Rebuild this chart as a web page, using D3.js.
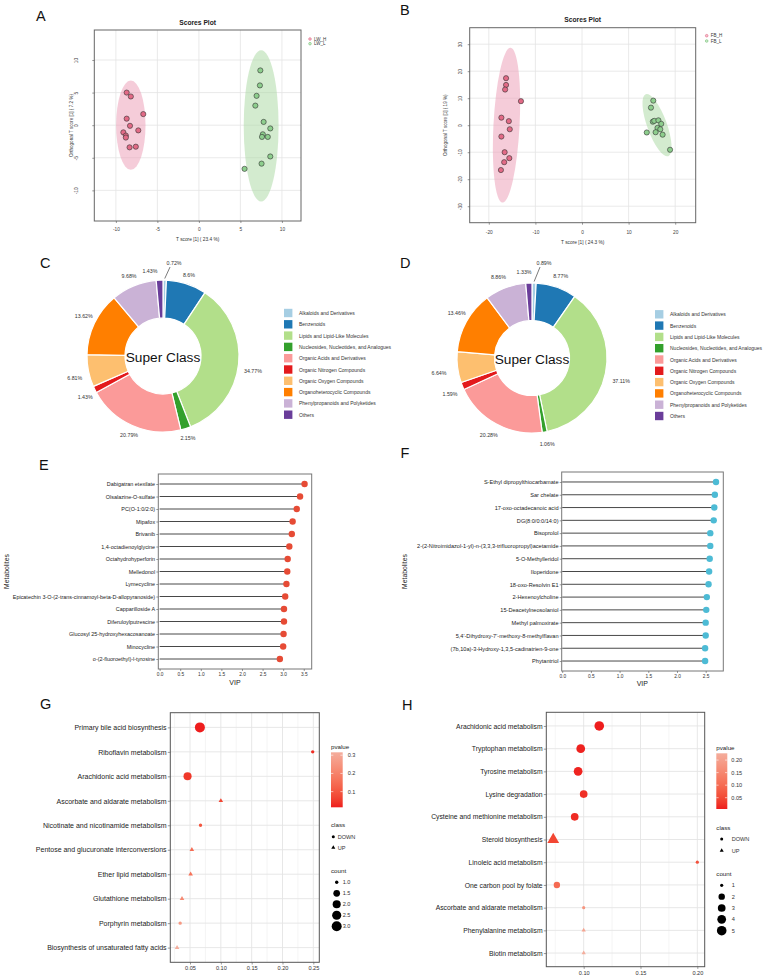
<!DOCTYPE html>
<html>
<head>
<meta charset="utf-8">
<script src="https://cdn.jsdelivr.net/npm/d3@7"></script>
<style>
  body { margin: 0; background: #fff; }
  #container svg { display: block; color: #222; }
</style>
</head>
<body>
<div id="container"></div>
<script>
//---------------- Data ----------------
// A: LW scores plot (T score, orthogonal T score)
const lwHigh = [[-8.7,5.0],[-8.2,4.4],[-6.7,1.7],[-8.7,1.0],[-8.3,-0.1],[-7.3,-0.8],[-9.1,-1.1],[-8.8,-1.6],[-8.8,-1.9],[-8.35,-3.4],[-7.6,-3.3]];
const lwLow = [[7.4,8.4],[7.35,6.1],[6.95,4.5],[6.8,3.0],[7.8,0.5],[8.6,-0.5],[7.7,-1.4],[7.6,-1.8],[8.3,-1.8],[8.6,-4.8],[7.55,-5.9],[5.5,-6.7]];
const lwEllipses = [{cx:-8.2, cy:0, rx:1.77, ry:6.85, angle:0}, {cx:7.5, cy:-0.1, rx:2.1, ry:11.6, angle:0}];
const lwGroups = ["LW_H", "LW_L"];
const lwTicksX = [-10,-5,0,5,10];
const lwTicksY = [-10,-5,0,5,10];

// B: FB scores plot
const fbHigh = [[-16.3,17.4],[-16.3,14.9],[-16.5,13.2],[-13.1,8.9],[-17.3,2.8],[-15.7,1.5],[-15.5,-1.5],[-17.3,-4.2],[-16.6,-10.0],[-15.6,-12.2],[-16.7,-13.7],[-17.4,-16.6]];
const fbLow = [[15.3,9.1],[14.8,6.5],[15.2,1.3],[15.5,1.6],[16.4,1.8],[17.0,0.5],[16.2,-1.0],[16.8,-1.5],[13.9,-2.7],[15.8,-2.6],[17.3,-3.5],[18.9,-9.1]];
const fbEllipses = [{cx:-16.2, cy:0, rx:2.8, ry:28.7, angle:3}, {cx:16.1, cy:0, rx:2.1, ry:12.2, angle:-20}];
const fbGroups = ["FB_H", "FB_L"];
const fbTicksX = [-20,-10,0,10,20];
const fbTicksY = [-30,-20,-10,0,10,20,30];

// C / D: super class shares (%)
const superClasses = ["Alkaloids and Derivatives", "Benzenoids", "Lipids and Lipid-Like Molecules",
  "Nucleosides, Nucleotides, and Analogues", "Organic Acids and Derivatives", "Organic Nitrogen Compounds",
  "Organic Oxygen Compounds", "Organoheterocyclic Compounds", "Phenylpropanoids and Polyketides", "Others"];
const shareC = [0.72, 8.6, 34.77, 2.15, 20.79, 1.43, 6.81, 13.62, 9.68, 1.43];
const shareD = [0.89, 8.77, 37.11, 1.06, 20.28, 1.59, 6.64, 13.46, 8.86, 1.33];

// E / F: VIP lollipops
const metabE = ["Dabigatran etexilate", "Olsalazine-O-sulfate", "PC(O-1:0/2:0)", "Mipafox", "Brivanib",
  "1,4-octadienoylglycine", "Octahydrohyperforin", "Melledonol", "Lymecycline",
  "Epicatechin 3-O-(2-trans-cinnamoyl-beta-D-allopyranoside)", "Capparilloside A", "Diferuloylputrescine",
  "Glucosyl 25-hydroxyhexacosanoate", "Minocycline", "o-(2-fluoroethyl)-l-tyrosine"];
const vipE = [3.52, 3.41, 3.33, 3.23, 3.21, 3.15, 3.11, 3.10, 3.08, 3.05, 3.02, 3.02, 3.01, 3.00, 2.92];
const vipTicksE = [0, 0.5, 1, 1.5, 2, 2.5, 3, 3.5];

const metabF = ["S-Ethyl dipropylthiocarbamate", "Sar chelate", "17-oxo-octadecanoic acid", "DG(8:0/0:0/14:0)",
  "Bisoprolol", "2-(2-Nitroimidazol-1-yl)-n-(3,3,3-trifluoropropyl)acetamide", "5-O-Methylleridol",
  "Iloperidone", "18-oxo-Resolvin E1", "2-Hexenoylcholine", "15-Deacetylneosolaniol", "Methyl palmoxirate",
  "5,4'-Dihydroxy-7'-methoxy-8-methylflavan", "(7b,10a)-3-Hydroxy-1,3,5-cadinatrien-9-one", "Phytantriol"];
const vipF = [2.68, 2.66, 2.65, 2.64, 2.58, 2.58, 2.57, 2.56, 2.55, 2.52, 2.51, 2.50, 2.50, 2.49, 2.49];
const vipTicksF = [0, 0.5, 1, 1.5, 2, 2.5];

// G / H: pathway enrichment
const pathG = ["Primary bile acid biosynthesis", "Riboflavin metabolism", "Arachidonic acid metabolism",
  "Ascorbate and aldarate metabolism", "Nicotinate and nicotinamide metabolism",
  "Pentose and glucuronate interconversions", "Ether lipid metabolism", "Glutathione metabolism",
  "Porphyrin metabolism", "Biosynthesis of unsaturated fatty acids"];
const ratioG = [0.066, 0.249, 0.046, 0.100, 0.067, 0.053, 0.051, 0.037, 0.034, 0.029];
const pvalG = [0.014, 0.030, 0.045, 0.070, 0.100, 0.150, 0.160, 0.220, 0.260, 0.316];
const classG = ["DOWN", "DOWN", "DOWN", "UP", "DOWN", "UP", "UP", "UP", "DOWN", "UP"];
const countG = [3, 1, 2, 1, 1, 1, 1, 1, 1, 1];
const ratioTicksG = [0.05, 0.10, 0.15, 0.20, 0.25];
const ratioMinorG = [0.025, 0.075, 0.125, 0.175, 0.225];
const pTicksG = [0.1, 0.2, 0.3];
const countTicksG = [1.0, 1.5, 2.0, 2.5, 3.0];

const pathH = ["Arachidonic acid metabolism", "Tryptophan metabolism", "Tyrosine metabolism", "Lysine degradation",
  "Cysteine and methionine metabolism", "Steroid biosynthesis", "Linoleic acid metabolism",
  "One carbon pool by folate", "Ascorbate and aldarate metabolism", "Phenylalanine metabolism", "Biotin metabolism"];
const ratioH = [0.1137, 0.0974, 0.0951, 0.100, 0.0921, 0.0732, 0.200, 0.0764, 0.100, 0.100, 0.100];
const pvalH = [0.005, 0.008, 0.010, 0.020, 0.015, 0.045, 0.060, 0.100, 0.180, 0.210, 0.227];
const classH = ["DOWN", "DOWN", "DOWN", "DOWN", "DOWN", "UP", "DOWN", "DOWN", "DOWN", "UP", "UP"];
const countH = [5, 4, 4, 3, 3, 4, 1, 2, 1, 1, 1];
const ratioTicksH = [0.10, 0.15, 0.20];
const ratioMinorH = [0.075, 0.125, 0.175];
const pTicksH = [0.05, 0.10, 0.15, 0.20];
const countTicksH = [1, 2, 3, 4, 5];

//---------------- Setup ----------------
const FONT = "'Liberation Sans', Arial, Helvetica, sans-serif";
const svg = d3.select("#container").append("svg")
  .attr("width", 767).attr("height", 979)
  .attr("font-family", FONT);
svg.append("rect").attr("width", 767).attr("height", 979).attr("fill", "#fff");

function txt(g, x, y, s, size, o = {}) {
  const t = g.append("text").attr("x", x).attr("y", y).text(s)
    .attr("font-size", size).attr("fill", o.fill || "#222");
  if (o.anchor) t.attr("text-anchor", o.anchor);
  if (o.weight) t.attr("font-weight", o.weight);
  if (o.mid) t.attr("dominant-baseline", "central");
  if (o.rotate) t.attr("transform", `rotate(${o.rotate},${x},${y})`);
  return t;
}

function styleAxis(g, size, color) {
  g.select(".domain").remove();
  g.attr("font-size", size).attr("font-family", FONT);
  g.selectAll(".tick line").attr("stroke", "#555").attr("stroke-width", 0.6);
  g.selectAll(".tick text").attr("fill", color);
}

// panel letters
const letters = [["A",36,20.7],["B",400,14.7],["C",40,268.3],["D",400,268.3],["E",39,470],["F",400.5,457.7],["G",40,709.3],["H",402,710]];
letters.forEach(([l, x, y]) => txt(svg, x, y, l, 14.5, {fill: "#111"}));

//---------------- Scores plots ----------------
const ellFill = ["#ec9ab4", "#a8d8a0"];
const ptFill = ["#e26a86", "#8dce8d"];
const legStroke = ["#e0607e", "#6fbf6f"];

function scoresPlot(o) {
  const [L, T, R, B] = o.box;
  const g = svg.append("g");
  const x = d3.scaleLinear().domain(o.xDomain).range([L, R]);
  const y = d3.scaleLinear().domain(o.yDomain).range([B, T]);

  g.append("g").selectAll("line").data(o.xTicks).join("line")
    .attr("x1", d => x(d)).attr("x2", d => x(d)).attr("y1", T).attr("y2", B)
    .attr("stroke", "#e4e4e4").attr("stroke-width", 0.8);
  g.append("g").selectAll("line").data(o.yTicks).join("line")
    .attr("y1", d => y(d)).attr("y2", d => y(d)).attr("x1", L).attr("x2", R)
    .attr("stroke", "#e4e4e4").attr("stroke-width", 0.8);

  g.append("g").selectAll("ellipse").data(o.ellipses).join("ellipse")
    .attr("cx", d => x(d.cx)).attr("cy", d => y(d.cy))
    .attr("rx", d => x(d.cx + d.rx) - x(d.cx))
    .attr("ry", d => y(d.cy) - y(d.cy + d.ry))
    .attr("transform", d => `rotate(${d.angle},${x(d.cx)},${y(d.cy)})`)
    .attr("fill", (d, i) => ellFill[i]).attr("fill-opacity", 0.5);

  o.groups.forEach((pts, i) => {
    g.append("g").selectAll("circle").data(pts).join("circle")
      .attr("cx", d => x(d[0])).attr("cy", d => y(d[1])).attr("r", 2.6)
      .attr("fill", ptFill[i]).attr("stroke", "#333").attr("stroke-width", 0.6);
  });

  g.append("rect").attr("x", L).attr("y", T).attr("width", R - L).attr("height", B - T)
    .attr("fill", "none").attr("stroke", "#666").attr("stroke-width", 1);

  const xa = g.append("g").attr("transform", `translate(0,${B})`)
    .call(d3.axisBottom(x).tickValues(o.xTicks).tickFormat(d => String(d)).tickSize(2).tickPadding(o.xPad));
  styleAxis(xa, 4.8, "#444");
  const ya = g.append("g").attr("transform", `translate(${L},0)`)
    .call(d3.axisLeft(y).tickValues(o.yTicks).tickFormat(d => String(d)).tickSize(2));
  styleAxis(ya, 4.8, "#444");
  ya.selectAll(".tick text").attr("x", 0).attr("dy", 0).attr("text-anchor", "middle")
    .attr("transform", `translate(${o.yLabelX - L + 1.7},0) rotate(-90)`);

  txt(g, (L + R) / 2, o.titleY, "Scores Plot", 6.7, {anchor: "middle", weight: "bold", mid: true});
  txt(g, (L + R) / 2, o.xTitleY, o.xTitle, 4.8, {anchor: "middle", mid: true, fill: "#333"});
  txt(g, o.yTitleX, (T + B) / 2, o.yTitle, 4.6, {anchor: "middle", mid: true, rotate: -90, fill: "#333"});

  o.names.forEach((n, i) => {
    const ly = o.legendY + i * o.legendStep;
    g.append("circle").attr("cx", o.legendX).attr("cy", ly).attr("r", 1.3)
      .attr("fill", ptFill[i]).attr("fill-opacity", 0.4).attr("stroke", legStroke[i]).attr("stroke-width", 0.6);
    txt(g, o.legendX + 4, ly, n, 4.5, {mid: true, fill: "#333"});
  });
}

scoresPlot({
  box: [94.3, 30, 301, 221], xDomain: [-12.6, 12.3], yDomain: [-14.7, 14.6],
  xTicks: lwTicksX, yTicks: lwTicksY, ellipses: lwEllipses, groups: [lwHigh, lwLow], names: lwGroups,
  xPad: 4.3, yLabelX: 76, titleY: 22.3, xTitleY: 239.3, yTitleX: 71.5,
  xTitle: "T score [1] ( 23.4 %)", yTitle: "Orthogonal T score [1] ( 7.2 %)",
  legendX: 310, legendY: 39, legendStep: 4.7
});
scoresPlot({
  box: [469.7, 27.7, 695.7, 222.7], xDomain: [-24.1, 24.4], yDomain: [-36.1, 36.1],
  xTicks: fbTicksX, yTicks: fbTicksY, ellipses: fbEllipses, groups: [fbHigh, fbLow], names: fbGroups,
  xPad: 5.6, yLabelX: 460, titleY: 19.3, xTitleY: 242.3, yTitleX: 445.7,
  xTitle: "T score [1] ( 24.3 %)", yTitle: "Orthogonal T score [1] ( 19 %)",
  legendX: 706.7, legendY: 35.7, legendStep: 5.3
});

//---------------- Donuts ----------------
const classColor = d3.scaleOrdinal(superClasses, d3.schemePaired.slice(0, 10));
const nudgeC = [[9,-3],[-2,4.6],[0.5,5.4],[-2,-4],[2.5,-3.3],[3,1.4],[0,4.4],[2,-1.6],[0.6,3],[-9,5]];
const nudgeD = [[9.5,-5],[-0.6,3],[1,5],[0,-2.4],[0,-2],[1.5,2.7],[-3.7,4],[3.3,-1.2],[-1.7,3],[-4.2,4]];

function donut(o) {
  const g = svg.append("g").attr("transform", `translate(${o.cx},${o.cy})`);
  const pie = d3.pie().sort(null).value(d => d)(o.values);
  const arc = d3.arc().innerRadius(o.r * 0.5).outerRadius(o.r);
  const labArc = d3.arc().innerRadius(90).outerRadius(90);
  g.selectAll("path").data(pie).join("path")
    .attr("d", arc)
    .attr("fill", (d, i) => classColor(superClasses[i]))
    .attr("stroke", "#fff").attr("stroke-width", 1.2);

  pie.forEach((d, i) => {
    const [lx, ly] = labArc.centroid(d);
    const px = lx + o.nudge[i][0], py = ly + o.nudge[i][1];
    txt(g, px, py, d.data + "%", 5.3, {anchor: "middle", mid: true, fill: "#333"});
    if (i === 0) {
      const a = (d.startAngle + d.endAngle) / 2;
      g.append("line")
        .attr("x1", Math.sin(a) * (o.r + 1.5)).attr("y1", -Math.cos(a) * (o.r + 1.5))
        .attr("x2", px - 4).attr("y2", py + 4)
        .attr("stroke", "#222").attr("stroke-width", 0.6);
    }
  });
  txt(g, 0, 1, "Super Class", 13.7, {anchor: "middle", mid: true, fill: "#111"});

  const lg = svg.append("g");
  superClasses.forEach((c, i) => {
    const yy = o.legendY + i * 11.3;
    lg.append("rect").attr("x", o.legendX).attr("y", yy - 4.2).attr("width", 8.4).attr("height", 8.4)
      .attr("fill", classColor(c));
    txt(lg, o.legendX + 15, yy, c, 5, {mid: true, fill: "#333"});
  });
}
donut({cx: 163, cy: 356, r: 76, values: shareC, nudge: nudgeC, legendX: 284, legendY: 313});
donut({cx: 532, cy: 358, r: 75, values: shareD, nudge: nudgeD, legendX: 655, legendY: 314.3});

//---------------- Lollipops ----------------
function lollipop(o) {
  const [L, T, R, B] = o.box;
  const g = svg.append("g");
  const x = d3.scaleLinear().domain(o.xDomain).range([L, R]);
  const y = d3.scalePoint().domain(o.names).range([T, B]).padding(o.pad);
  const rows = o.names.map((n, i) => ({n, v: o.values[i]}));

  g.append("g").selectAll("line").data(rows).join("line")
    .attr("x1", x(0)).attr("x2", d => x(d.v)).attr("y1", d => y(d.n)).attr("y2", d => y(d.n))
    .attr("stroke", "#333").attr("stroke-width", 0.9);
  g.append("g").selectAll("circle").data(rows).join("circle")
    .attr("cx", d => x(d.v)).attr("cy", d => y(d.n)).attr("r", 3.2).attr("fill", o.color);
  g.append("rect").attr("x", L).attr("y", T).attr("width", R - L).attr("height", B - T)
    .attr("fill", "none").attr("stroke", "#777").attr("stroke-width", 1);

  const xa = g.append("g").attr("transform", `translate(0,${B})`)
    .call(d3.axisBottom(x).tickValues(o.ticks).tickFormat(d3.format(".1f")).tickSize(2).tickPadding(o.xPad));
  styleAxis(xa, 4.8, "#333");
  const ya = g.append("g").attr("transform", `translate(${L},0)`)
    .call(d3.axisLeft(y).tickSize(2).tickPadding(1.2));
  styleAxis(ya, o.labelSize, "#222");

  txt(g, o.xTitleX, o.xTitleY, "VIP", 7, {anchor: "middle", mid: true});
  txt(g, o.yTitleX, (T + B) / 2, "Metabolites", 6.8, {anchor: "middle", mid: true, rotate: -90});
}
lollipop({box: [158.3, 474, 311.7, 669], xDomain: [-0.032, 3.693], names: metabE, values: vipE,
  ticks: vipTicksE, pad: 0.8, color: "#E64B35", xPad: 1.6, labelSize: 5.45,
  xTitleX: 235, xTitleY: 682.3, yTitleX: 6.3});
lollipop({box: [561.7, 472, 723.3, 671], xDomain: [-0.009, 2.807], names: metabF, values: vipF,
  ticks: vipTicksF, pad: 0.78, color: "#4DBBD5", xPad: 1.3, labelSize: 5.6,
  xTitleX: 642.3, xTitleY: 683.3, yTitleX: 404.7});

//---------------- Enrichment bubbles ----------------
const pLow = "#ee1d1d", pHigh = "#f4ad9c";
function shapePath(cls, r) {
  return cls === "UP"
    ? d3.symbol(d3.symbolTriangle, Math.PI * r * r * 1.0)()
    : d3.symbol(d3.symbolCircle, Math.PI * r * r)();
}

function bubble(o) {
  const [L, T, R, B] = o.box;
  const g = svg.append("g");
  const x = d3.scaleLinear().domain(o.xDomain).range([L, R]);
  const y = d3.scalePoint().domain(o.paths).range([T, B]).padding(0.6);
  const pExt = d3.extent(o.pvals);
  const col = d3.scaleLinear().domain(pExt).range([pLow, pHigh]).interpolate(d3.interpolateLab);
  const cExt = d3.extent(o.counts);
  const rad = c => o.rRange[0] + Math.sqrt((c - cExt[0]) / (cExt[1] - cExt[0])) * (o.rRange[1] - o.rRange[0]);

  g.append("g").selectAll("line").data(o.minor).join("line")
    .attr("x1", d => x(d)).attr("x2", d => x(d)).attr("y1", T).attr("y2", B)
    .attr("stroke", "#efefef").attr("stroke-width", 0.6);
  g.append("g").selectAll("line").data(o.ticks).join("line")
    .attr("x1", d => x(d)).attr("x2", d => x(d)).attr("y1", T).attr("y2", B)
    .attr("stroke", "#e4e4e4").attr("stroke-width", 0.9);
  g.append("g").selectAll("line").data(o.paths).join("line")
    .attr("y1", d => y(d)).attr("y2", d => y(d)).attr("x1", L).attr("x2", R)
    .attr("stroke", "#e4e4e4").attr("stroke-width", 0.9);

  const rows = o.paths.map((p, i) => ({p, v: o.ratios[i], pv: o.pvals[i], cls: o.classes[i], n: o.counts[i]}));
  g.append("g").selectAll("path").data(rows).join("path")
    .attr("transform", d => `translate(${x(d.v)},${y(d.p)})`)
    .attr("d", d => shapePath(d.cls, rad(d.n)))
    .attr("fill", d => col(d.pv));

  g.append("rect").attr("x", L).attr("y", T).attr("width", R - L).attr("height", B - T)
    .attr("fill", "none").attr("stroke", "#555").attr("stroke-width", 1);

  const xa = g.append("g").attr("transform", `translate(0,${B})`)
    .call(d3.axisBottom(x).tickValues(o.ticks).tickFormat(d3.format(".2f")).tickSize(2.2).tickPadding(o.xPad));
  styleAxis(xa, 5.6, "#333");
  const ya = g.append("g").attr("transform", `translate(${L},0)`)
    .call(d3.axisLeft(y).tickSize(2.5).tickPadding(1.2));
  styleAxis(ya, o.labelSize, "#222");

  // legend: pvalue colourbar
  const lx = o.legendX;
  const gradId = "grad" + o.id;
  const grad = svg.append("defs").append("linearGradient").attr("id", gradId)
    .attr("x1", 0).attr("y1", 1).attr("x2", 0).attr("y2", 0);
  d3.range(0, 1.0001, 0.1).forEach(t => {
    grad.append("stop").attr("offset", t).attr("stop-color", col(pExt[0] + t * (pExt[1] - pExt[0])));
  });
  txt(g, lx, o.pTitleY, "pvalue", 6.2, {mid: true});
  const ly = d3.scaleLinear().domain(pExt).range(o.bar);
  g.append("rect").attr("x", lx).attr("y", o.bar[1]).attr("width", o.barW).attr("height", o.bar[0] - o.bar[1])
    .attr("fill", `url(#${gradId})`);
  o.pTicks.forEach(p => {
    g.append("line").attr("x1", lx).attr("x2", lx + 2.3).attr("y1", ly(p)).attr("y2", ly(p))
      .attr("stroke", "#fff").attr("stroke-width", 0.6);
    g.append("line").attr("x1", lx + o.barW - 2.3).attr("x2", lx + o.barW).attr("y1", ly(p)).attr("y2", ly(p))
      .attr("stroke", "#fff").attr("stroke-width", 0.6);
    txt(g, o.pLabelX, ly(p), o.pFmt(p), 5.6, {mid: true, fill: "#333"});
  });

  // legend: class
  txt(g, lx, o.classTitleY, "class", 6.2, {mid: true});
  ["DOWN", "UP"].forEach((c, i) => {
    const yy = o.classY[i];
    g.append("path").attr("transform", `translate(${o.classSymX},${yy})`)
      .attr("d", shapePath(c, 1.5)).attr("fill", "#000");
    txt(g, o.classTextX, yy, c, 5.6, {mid: true, fill: "#333"});
  });

  // legend: count
  txt(g, lx, o.countTitleY, "count", 6.2, {mid: true});
  o.countTicks.forEach((c, i) => {
    const yy = o.countY0 + i * o.countStep;
    g.append("circle").attr("cx", o.countSymX).attr("cy", yy).attr("r", rad(c)).attr("fill", "#000");
    txt(g, o.countTextX, yy, o.cFmt(c), 5.6, {mid: true, fill: "#333"});
  });
}

bubble({id: "G", box: [170.3, 712.7, 319.3, 962.3], xDomain: [0.018, 0.2597],
  paths: pathG, ratios: ratioG, pvals: pvalG, classes: classG, counts: countG,
  ticks: ratioTicksG, minor: ratioMinorG, rRange: [1.7, 5], xPad: 1.8, labelSize: 7,
  legendX: 331, pTitleY: 746.7, bar: [807.3, 752.3], barW: 11.7, pTicks: pTicksG, pLabelX: 347.7,
  pFmt: d3.format(".1f"), classTitleY: 824.7, classY: [836.7, 847.7], classSymX: 333.3, classTextX: 337.7,
  countTitleY: 870.3, countTicks: countTicksG, countY0: 882.3, countStep: 11, countSymX: 336.7,
  countTextX: 342.7, cFmt: d3.format(".1f")});

bubble({id: "H", box: [546.3, 712.3, 704.7, 966.7], xDomain: [0.0671, 0.2065],
  paths: pathH, ratios: ratioH, pvals: pvalH, classes: classH, counts: countH,
  ticks: ratioTicksH, minor: ratioMinorH, rRange: [1.6, 4.8], xPad: 2.1, labelSize: 6.8,
  legendX: 716.3, pTitleY: 747.3, bar: [809, 753.3], barW: 11, pTicks: pTicksH, pLabelX: 731.3,
  pFmt: d3.format(".2f"), classTitleY: 827, classY: [839, 850.7], classSymX: 721.7, classTextX: 731.7,
  countTitleY: 873.7, countTicks: countTicksH, countY0: 885.3, countStep: 11.35, countSymX: 721.7,
  countTextX: 731.7, cFmt: d => String(d)});
</script>
</body>
</html>
